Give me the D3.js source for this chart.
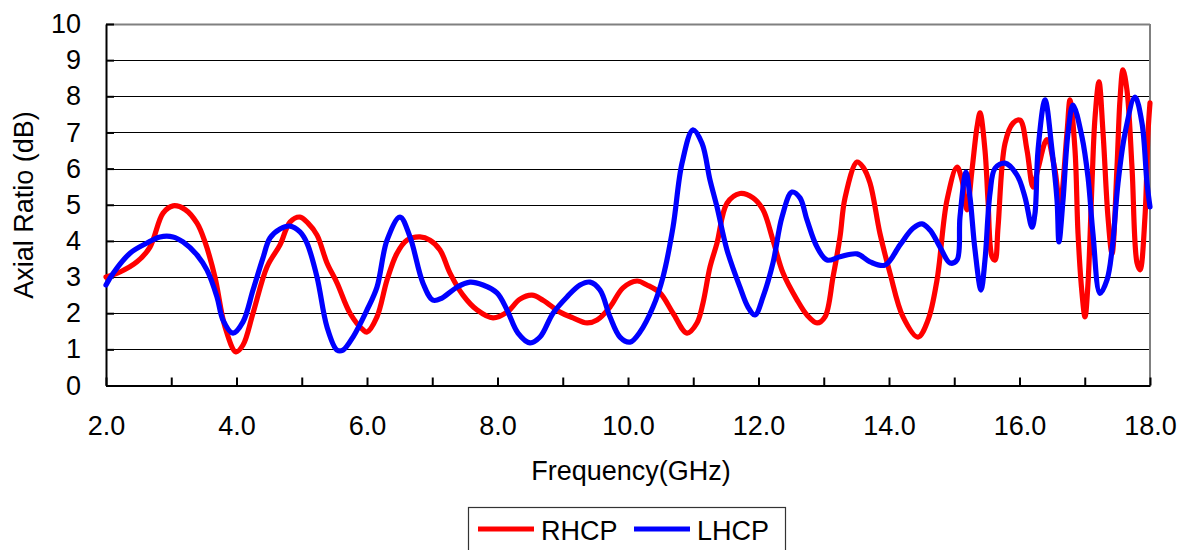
<!DOCTYPE html>
<html>
<head>
<meta charset="utf-8">
<script src="https://cdn.jsdelivr.net/npm/d3@7"></script>
<style>
  html, body { margin: 0; padding: 0; background: #fff; }
  svg { display: block; font-family: "Liberation Sans", Arial, sans-serif; }
</style>
</head>
<body>
<svg id="chart" width="1178" height="550"></svg>
<script>
// ---- data ----
const seriesNames = ["RHCP", "LHCP"];
const yTicks = [0, 1, 2, 3, 4, 5, 6, 7, 8, 9, 10];
const xTicks = [2, 3, 4, 5, 6, 7, 8, 9, 10, 11, 12, 13, 14, 15, 16, 17, 18];
const xLabelTicks = [2, 4, 6, 8, 10, 12, 14, 16, 18];

const freqR = [2.0, 2.215, 2.475, 2.674, 2.874, 3.027, 3.211, 3.395, 3.517, 3.67, 3.824, 3.992, 4.1, 4.253, 4.467, 4.667, 4.82, 4.973, 5.096, 5.234, 5.387, 5.54, 5.74, 5.939, 6.0, 6.153, 6.307, 6.46, 6.613, 6.812, 6.966, 7.119, 7.272, 7.471, 7.686, 7.931, 8.146, 8.345, 8.529, 8.697, 8.958, 9.157, 9.372, 9.525, 9.724, 9.923, 10.138, 10.291, 10.49, 10.69, 10.904, 11.057, 11.149, 11.257, 11.364, 11.517, 11.716, 11.916, 12.069, 12.222, 12.376, 12.59, 12.743, 12.897, 13.019, 13.142, 13.249, 13.326, 13.51, 13.602, 13.709, 13.862, 14.015, 14.215, 14.444, 14.598, 14.736, 14.889, 15.042, 15.119, 15.195, 15.272, 15.349, 15.395, 15.471, 15.517, 15.579, 15.625, 15.671, 15.778, 15.901, 16.008, 16.115, 16.207, 16.284, 16.42, 16.54, 16.62, 16.728, 16.774, 16.851, 16.897, 16.958, 17.004, 17.05, 17.111, 17.157, 17.218, 17.28, 17.356, 17.418, 17.494, 17.54, 17.586, 17.647, 17.724, 17.801, 17.847, 17.923, 17.969, 18.0];
const rhcp = [3.0, 3.14, 3.42, 3.83, 4.77, 4.97, 4.87, 4.49, 3.97, 3.0, 1.62, 0.93, 1.12, 2.0, 3.28, 3.89, 4.52, 4.66, 4.49, 4.16, 3.39, 2.84, 2.0, 1.54, 1.48, 1.9, 2.92, 3.66, 4.02, 4.11, 4.02, 3.75, 3.11, 2.5, 2.09, 1.87, 2.03, 2.39, 2.5, 2.36, 2.03, 1.87, 1.73, 1.81, 2.17, 2.7, 2.89, 2.78, 2.56, 2.0, 1.45, 1.73, 2.28, 3.28, 3.94, 5.04, 5.31, 5.19, 4.86, 4.02, 3.11, 2.37, 1.95, 1.73, 1.9, 3.0, 4.11, 5.19, 6.18, 6.04, 5.6, 4.2, 3.11, 1.9, 1.34, 1.81, 2.92, 5.13, 6.04, 5.68, 4.86, 5.96, 7.15, 7.54, 6.51, 5.13, 3.56, 3.47, 4.38, 6.7, 7.26, 7.34, 6.51, 5.49, 6.0, 6.8, 6.0, 5.0, 7.0, 7.9, 6.5, 4.2, 2.55, 1.9, 2.83, 5.6, 7.4, 8.4, 7.0, 4.66, 3.65, 6.04, 7.9, 8.73, 8.17, 6.04, 3.39, 3.2, 4.66, 6.98, 7.82];

const freqL = [2.0, 2.107, 2.368, 2.628, 2.828, 3.027, 3.18, 3.395, 3.548, 3.701, 3.793, 3.946, 4.1, 4.253, 4.406, 4.513, 4.667, 4.82, 4.973, 5.08, 5.234, 5.387, 5.54, 5.632, 5.785, 6.0, 6.153, 6.307, 6.506, 6.659, 6.858, 7.011, 7.149, 7.379, 7.579, 7.778, 7.992, 8.146, 8.314, 8.498, 8.651, 8.851, 9.065, 9.264, 9.418, 9.571, 9.724, 9.877, 10.031, 10.184, 10.383, 10.536, 10.69, 10.828, 10.996, 11.134, 11.257, 11.364, 11.517, 11.716, 11.839, 11.946, 12.069, 12.222, 12.36, 12.513, 12.636, 12.743, 12.897, 13.05, 13.249, 13.51, 13.709, 13.939, 14.169, 14.368, 14.506, 14.628, 14.782, 14.935, 15.042, 15.088, 15.18, 15.241, 15.318, 15.41, 15.471, 15.548, 15.625, 15.778, 15.962, 16.084, 16.192, 16.238, 16.284, 16.391, 16.498, 16.575, 16.605, 16.667, 16.743, 16.82, 16.958, 17.05, 17.126, 17.234, 17.341, 17.418, 17.51, 17.617, 17.77, 17.877, 17.954, 18.0];
const lhcp = [2.78, 3.1, 3.66, 3.94, 4.11, 4.11, 3.97, 3.61, 3.19, 2.45, 1.81, 1.45, 1.76, 2.64, 3.53, 4.08, 4.33, 4.41, 4.25, 3.94, 3.0, 1.62, 0.98, 0.98, 1.34, 2.09, 2.72, 4.02, 4.66, 4.11, 2.83, 2.36, 2.42, 2.72, 2.86, 2.78, 2.56, 2.09, 1.45, 1.18, 1.34, 2.0, 2.45, 2.78, 2.86, 2.64, 1.9, 1.34, 1.2, 1.48, 2.17, 3.0, 4.38, 6.15, 7.07, 6.7, 5.68, 4.94, 3.75, 2.72, 2.17, 1.95, 2.45, 3.39, 4.66, 5.35, 5.19, 4.58, 3.83, 3.47, 3.56, 3.64, 3.42, 3.33, 3.89, 4.35, 4.47, 4.3, 3.83, 3.39, 3.47, 4.66, 5.9, 5.21, 3.75, 2.64, 3.47, 5.32, 6.01, 6.15, 5.82, 5.21, 4.38, 4.77, 6.51, 7.9, 6.51, 5.13, 3.97, 5.13, 6.98, 7.76, 6.87, 5.76, 4.2, 2.55, 2.92, 3.75, 5.6, 6.98, 7.98, 7.26, 5.6, 4.94];

const colors = ["#ff0000", "#0000ff"];

// ---- layout ----
const svg = d3.select("#chart");
const plotLeft = 106, plotRight = 1150, plotTop = 24, plotBottom = 385.5;
const x = d3.scaleLinear().domain([2, 18]).range([plotLeft, plotRight]);
const y = d3.scaleLinear().domain([0, 10]).range([plotBottom, plotTop]);
const fontSize = 27;
const fontFam = '"Liberation Sans", Arial, sans-serif';

// gridlines
svg.append("g").selectAll("line")
  .data(yTicks.filter(v => v > 0 && v < 10))
  .join("line")
  .attr("x1", plotLeft).attr("x2", plotRight)
  .attr("y1", d => Math.round(y(d)) + 0.5).attr("y2", d => Math.round(y(d)) + 0.5)
  .attr("stroke", "#000").attr("stroke-width", 1.2);

// frame: top and right gray
svg.append("line").attr("x1", plotLeft).attr("x2", plotRight).attr("y1", plotTop + 0.5).attr("y2", plotTop + 0.5)
  .attr("stroke", "#808080").attr("stroke-width", 2);
svg.append("line").attr("x1", plotRight).attr("x2", plotRight).attr("y1", plotTop).attr("y2", plotBottom)
  .attr("stroke", "#808080").attr("stroke-width", 2);

// y axis
const yAxis = svg.append("g").attr("transform", `translate(${plotLeft},0)`)
  .call(d3.axisLeft(y).tickValues(yTicks).tickFormat(d3.format("d")).tickSize(-8).tickSizeOuter(0).tickPadding(25));
yAxis.select(".domain").attr("stroke", "#000").attr("stroke-width", 2);
yAxis.selectAll(".tick line").attr("stroke", "#000").attr("stroke-width", 2);
yAxis.selectAll(".tick text").attr("font-size", fontSize).attr("fill", "#000").attr("font-family", fontFam);

// x axis
const xAxis = svg.append("g").attr("transform", `translate(0,${plotBottom})`)
  .call(d3.axisBottom(x).tickValues(xTicks)
    .tickFormat(d => xLabelTicks.includes(d) ? d3.format(".1f")(d) : "")
    .tickSize(-8).tickSizeOuter(0).tickPadding(30));
xAxis.select(".domain").attr("stroke", "#000").attr("stroke-width", 2);
xAxis.selectAll(".tick line").attr("stroke", "#000").attr("stroke-width", 2);
xAxis.selectAll(".tick text").attr("font-size", fontSize).attr("fill", "#000").attr("font-family", fontFam);

// lines
const line = d3.line().x(d => x(d[0])).y(d => y(d[1])).curve(d3.curveCatmullRom.alpha(0.5));
const seriesData = [d3.zip(freqR, rhcp), d3.zip(freqL, lhcp)];
svg.append("g").selectAll("path")
  .data(seriesData)
  .join("path")
  .attr("d", d => line(d))
  .attr("fill", "none")
  .attr("stroke", (d, i) => colors[i])
  .attr("stroke-width", 5.2)
  .attr("stroke-linejoin", "round")
  .attr("stroke-linecap", "round");

// axis titles
svg.append("text")
  .attr("x", 631).attr("y", 480)
  .attr("text-anchor", "middle")
  .attr("font-size", fontSize)
  .text("Frequency(GHz)");
svg.append("text")
  .attr("transform", "translate(33,205) rotate(-90)")
  .attr("text-anchor", "middle")
  .attr("font-size", fontSize)
  .text("Axial Ratio (dB)");

// legend
const legend = svg.append("g");
legend.append("rect")
  .attr("x", 468.5).attr("y", 507.5).attr("width", 317).attr("height", 60)
  .attr("fill", "#fff").attr("stroke", "#333").attr("stroke-width", 1.2);
const legendX = [478, 634];
seriesNames.forEach((name, i) => {
  legend.append("line")
    .attr("x1", legendX[i]).attr("x2", legendX[i] + 56)
    .attr("y1", 529).attr("y2", 529)
    .attr("stroke", colors[i]).attr("stroke-width", 5);
  legend.append("text")
    .attr("x", legendX[i] + 63).attr("y", 540)
    .attr("font-size", fontSize)
    .text(name);
});
</script>
</body>
</html>
